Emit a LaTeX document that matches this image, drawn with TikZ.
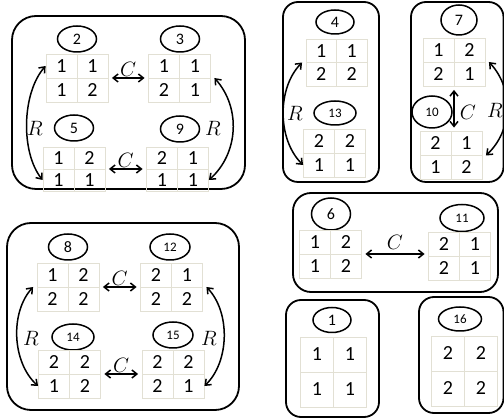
\documentclass[tikz,border=0pt]{standalone}
\usepackage{fontspec}
\setmainfont{Carlito}
\usepackage{tikz}
\usetikzlibrary{arrows.meta, positioning, shapes.geometric, matrix}
\usepackage{xcolor}
\definecolor{cellline}{RGB}{226,224,212}

\begin{document}
\begin{tikzpicture}[
    x=1pt, y=-1pt,
    groupbox/.style={draw, line width=1.8pt, rounded corners=#1},
    groupbox/.default=15pt,
    tag/.style={draw, ellipse, line width=1.5pt, minimum width=39pt,
                minimum height=26pt, inner sep=0pt, font=\fontsize{16}{16}\selectfont},
    smalltag/.style={tag, font=\fontsize{13}{13}\selectfont},
    grid/.style={matrix of nodes, column sep=-0.8pt, row sep=-0.8pt,
                 nodes={draw=cellline, line width=0.8pt, minimum width=31pt,
                        minimum height=24pt, inner sep=0pt, anchor=center,
                        font=\fontsize{20}{20}\selectfont}},
    lowgrid/.style={grid, nodes={minimum height=22pt}},
    biggrid/.style={grid, nodes={minimum width=33pt, minimum height=35pt}},
    lab/.style={font=\fontsize{22}{22}\selectfont, inner sep=1pt},
    carrow/.style={<->, >={Straight Barb[length=5pt, width=8pt]}, line width=1.5pt},
    rarrow/.style={<->, >={Straight Barb[length=5pt, width=8pt]}, line width=1.5pt},
]
    \useasboundingbox (0,0) rectangle (504,419);

    % Group boxes
    \draw[groupbox=24pt] (12,16) rectangle (245,189);
    \draw[groupbox] (283,2) rectangle (379,182);
    \draw[groupbox] (411,2) rectangle (503.5,182);
    \draw[groupbox=18pt] (293,193) rectangle (498,292);
    \draw[groupbox] (286,300) rectangle (379,417);
    \draw[groupbox] (419,297) rectangle (503.5,413);
    \draw[groupbox=24pt] (7,223) rectangle (239,410);

    % 2, 3, 5, 9
    \node[tag] (t2) at (77,39) {2};
    \matrix (g2) [grid] at (77,78) {1 & 1\\ 1 & 2\\};
    \node[tag] (t3) at (180,39) {3};
    \matrix (g3) [grid] at (179.5,78) {1 & 1\\ 2 & 1\\};
    \node[tag] (t5) at (74,128) {5};
    \matrix (g5) [lowgrid] at (74,169) {1 & 2\\ 1 & 1\\};
    \node[tag] (t9) at (180,129) {9};
    \matrix (g9) [lowgrid] at (177.5,169) {2 & 1\\ 1 & 1\\};

    % 4, 13
    \node[tag, minimum width=38pt, minimum height=24pt] (t4) at (335,22) {4};
    \matrix (g4) [grid, nodes={minimum width=30.5pt, minimum height=23.5pt}] at (336.5,62.5) {1 & 1\\ 2 & 2\\};
    \node[smalltag, minimum width=42pt, minimum height=24pt] (t13) at (335,113) {13};
    \matrix (g13) [grid] at (334.5,153) {2 & 2\\ 1 & 1\\};

    % 7, 10
    \node[tag, minimum width=36pt, minimum height=30pt] (t7) at (459,20) {7};
    \matrix (g7) [grid] at (454,62) {1 & 2\\ 2 & 1\\};
    \node[smalltag, minimum width=40pt, minimum height=32pt] (t10) at (432,112) {10};
    \matrix (g10) [grid] at (451,155.5) {2 & 1\\ 1 & 2\\};

    % 6, 11
    \node[tag, minimum height=32pt] (t6) at (331,214) {6};
    \matrix (g6) [grid] at (330.5,254) {1 & 2\\ 1 & 2\\};
    \node[smalltag, minimum width=44pt, minimum height=27pt] (t11) at (462,218) {11};
    \matrix (g11) [grid] at (459.5,256) {2 & 1\\ 2 & 1\\};

    % 1 and 16
    \node[tag, minimum width=38pt, minimum height=25pt] (t1) at (332,320) {1};
    \matrix (g1) [biggrid] at (333.5,372) {1 & 1\\ 1 & 1\\};
    \node[smalltag, minimum width=43pt, minimum height=24pt] (t16) at (460,319) {16};
    \matrix (g16) [biggrid] at (464.5,371) {2 & 2\\ 2 & 2\\};

    % 8, 12, 14, 15
    \node[tag] (t8) at (68,247) {8};
    \matrix (g8) [grid] at (68,287) {1 & 2\\ 2 & 2\\};
    \node[smalltag, minimum width=40pt] (t12) at (170,247) {12};
    \matrix (g12) [grid] at (171.5,287) {2 & 1\\ 2 & 2\\};
    \node[smalltag, minimum width=42pt] (t14) at (73,337) {14};
    \matrix (g14) [grid] at (69.5,374) {2 & 2\\ 1 & 2\\};
    \node[smalltag, minimum width=40pt] (t15) at (173,335) {15};
    \matrix (g15) [grid] at (173,374) {2 & 2\\ 2 & 1\\};

    % C arrows
    \draw[carrow] (g2) -- node[lab, above] (c1) {$C$} (g3);
    \draw[carrow] (g5) -- node[lab, above] (c2) {$C$} (g9);
    \draw[carrow] (g7.south) -- (g7.south |- g10.north);
    \node[lab] (c3) at (468,112) {$C$};
    \draw[carrow] (g6) -- node[lab, above=3pt] (c4) {$C$} (g6 -| g11.west);
    \draw[carrow] (g8) -- node[lab, above] (c5) {$C$} (g12);
    \draw[carrow] (g14) -- node[lab, above] (c6) {$C$} (g15);

    % R arrows
    \draw[rarrow] (g2-1-1.west) to[bend right=40, looseness=0.8] (g5-2-1.west);
    \node[lab] (r1) at (35,128) {$R$};
    \draw[rarrow] (g3.east) to[bend left=45] (g9-2-2.east);
    \node[lab] (r2) at (213,128) {$R$};
    \draw[rarrow] (g4.west) to[bend right=45, looseness=0.9] (g13-2-1.west);
    \node[lab] (r3) at (295,113) {$R$};
    \draw[rarrow] (g7.east) to[bend left=45] (g10.east);
    \node[lab] (r4) at (495,110) {$R$};
    \draw[rarrow] (g8.west) to[bend right=45, looseness=0.9] (g14-2-1.west);
    \node[lab] (r5) at (31,338) {$R$};
    \draw[rarrow] (g12.east) to[bend left=45, looseness=0.9] (g15-2-2.east);
    \node[lab] (r6) at (209,338) {$R$};
\end{tikzpicture}
\end{document}
